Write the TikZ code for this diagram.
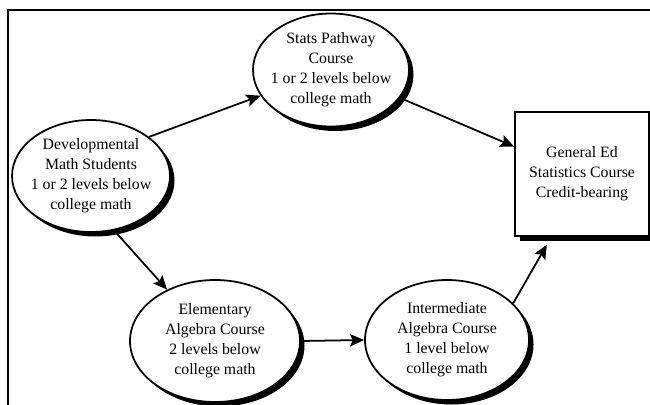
\documentclass[tikz,border=0pt]{standalone}
\usepackage{fontspec}
\setmainfont{Liberation Serif}
\usetikzlibrary{shapes.geometric, shadows, arrows.meta}
\tikzset{>={Stealth[length=8pt, width=7pt, inset=1.5pt]}}
\tikzset{
  course/.style={ellipse, draw, line width=1pt, fill=white,
    inner xsep=-0.6cm, inner ysep=-0.6cm,
    align=center, font=\fontsize{9}{11.3}\selectfont,
    drop shadow={shadow xshift=0.09cm, shadow yshift=-0.09cm, opacity=1, fill=black}},
  target/.style={rectangle, draw, line width=1pt, fill=white, inner sep=0pt,
    align=center, font=\fontsize{9}{11.3}\selectfont,
    minimum width=2.68cm, minimum height=2.48cm,
    drop shadow={shadow xshift=0.1cm, shadow yshift=-0.1cm, opacity=1, fill=black}},
  flow/.style={->, line width=1pt}
}

\begin{document}
\begin{tikzpicture}
    \useasboundingbox (0,0) rectangle (13,8.08);
    \clip (0,0) rectangle (13,8.08);
    % outer frame, runs off the right and bottom
    \draw[line width=1.1pt] (0.16,-0.5) rectangle (13.5,7.88);

    \node[course, minimum width=3.16cm, minimum height=2.24cm] (dev) at (1.82,4.56)
        {Developmental\\Math Students\\1 or 2 levels below\\college math};
    \node[course, minimum width=3.12cm, minimum height=2.26cm] (stats) at (6.62,6.68)
        {Stats Pathway\\Course\\1 or 2 levels below\\college math};
    \node[course, minimum width=3.4cm, minimum height=2.44cm] (elem) at (4.30,1.26)
        {Elementary\\Algebra Course\\2 levels below\\college math};
    \node[course, minimum width=3.28cm, minimum height=2.4cm] (inter) at (8.94,1.28)
        {Intermediate\\Algebra Course\\1 level below\\college math};
    \node[target] (box) at (11.64,4.60)
        {General Ed\\Statistics Course\\Credit-bearing};

    \draw[flow] (dev.34) -- (stats.200);
    \draw[flow] (stats.-22) -- (box.158);
    \draw[flow] (dev.-67) -- (elem.133);
    \draw[flow] (elem.east) -- (inter.west);
    \draw[flow, shorten >=0.18cm] (inter.29) -- (box.244);
\end{tikzpicture}
\end{document}
